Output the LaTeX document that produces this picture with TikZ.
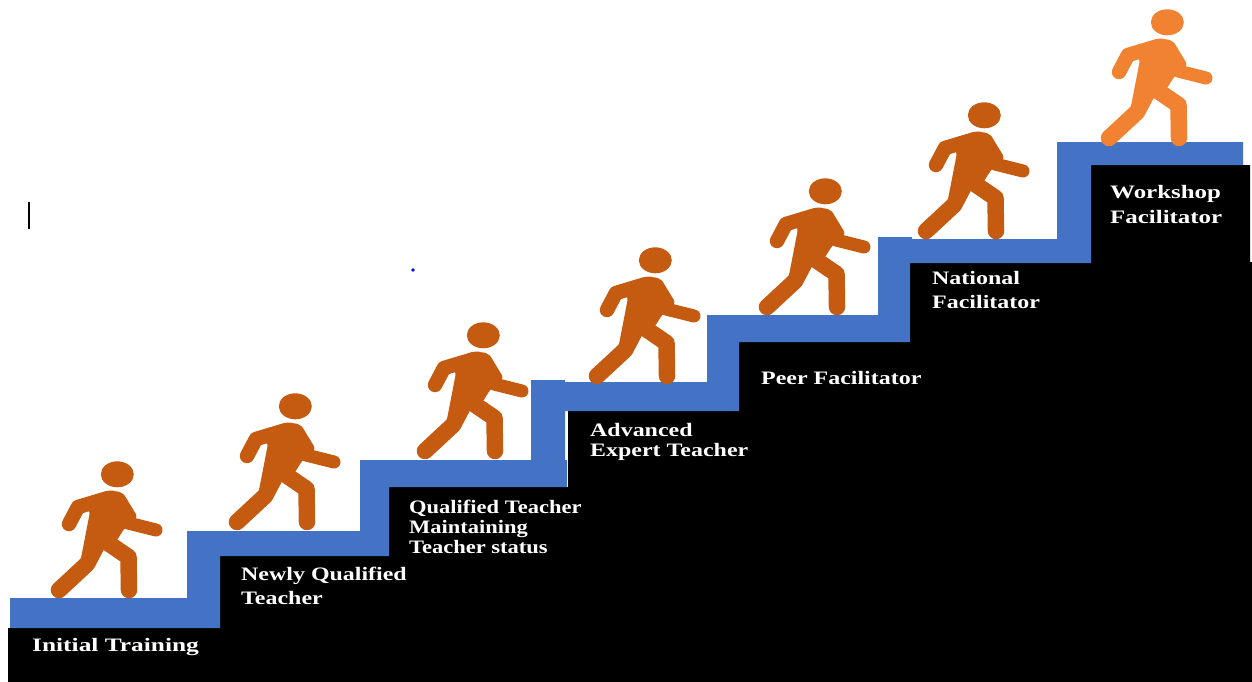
\documentclass[tikz,border=0pt]{standalone}
\usepackage{fontspec}
\setmainfont[FakeStretch=1.26]{Liberation Serif}
\definecolor{stepblue}{HTML}{4472C4}
\definecolor{walkdark}{HTML}{C55A11}
\definecolor{walklight}{HTML}{F08232}
\tikzset{
steplabel/.style={anchor=west, inner sep=0pt, align=left, text=white, transform shape, font=\fontsize{19}{#1}\selectfont\bfseries},
steplabel/.default=20,
limb/.style={line width=#1, line cap=round, line join=round},
limb/.default=16.5pt
}
\newcommand{\walker}[3]{
\begin{scope}[shift={(#1,#2)}, color=#3]
\fill (117.3,474.3) ellipse (16.5 and 13);
\fill[rounded corners=3pt] (82,502) -- (110,490) -- (123.3,493.3) -- (137.5,516.7) -- (124,529) -- (116.5,541) -- (98.3,549) -- (95,567) -- (80,563.3) -- (90,511.7) -- cycle;
\draw[limb] (59,590) -- (87,564) -- (97,545);
\draw[limb] (108,543) -- (128.5,557) -- (129,590);
\draw[limb=14.5pt] (69,524) -- (78,507) -- (108,498);
\draw[limb=13pt] (117,498) -- (128,523) -- (156,530);
\end{scope}
}
\begin{document}
\begin{tikzpicture}[x=1pt, y=-1pt]
\useasboundingbox (0,0) rectangle (1252,682);
\fill[black] (8,682) -- (8,628) -- (220,628) -- (220,556) -- (389,556) -- (389,487) -- (568,487) -- (568,411) -- (739,411) -- (739,342) -- (910,342) -- (910,263) -- (1091,263) -- (1091,165) -- (1250,165) -- (1250,262) -- (1252,262) -- (1252,682) -- cycle;
\fill[stepblue] (10,628) -- (10,598) -- (187,598) -- (187,531) -- (360,531) -- (360,460) -- (531,460) -- (531,380) -- (565,380) -- (565,382) -- (707,382) -- (707,315) -- (878,315) -- (878,237) -- (912,237) -- (912,239) -- (1057,239) -- (1057,142) -- (1243,142) -- (1243,165) -- (1091,165) -- (1091,263) -- (910,263) -- (910,342) -- (739,342) -- (739,411) -- (565,411) -- (565,460) -- (567,460) -- (567,487) -- (389,487) -- (389,556) -- (220,556) -- (220,628) -- cycle;

\walker{0}{0}{walkdark}
\walker{178}{-68}{walkdark}
\walker{366}{-139}{walkdark}
\walker{538}{-214}{walkdark}
\walker{708}{-283}{walkdark}
\walker{867}{-359}{walkdark}
\walker{1050}{-452}{walklight}

\draw[line width=1.5pt] (29,202) -- (29,229);
\fill[blue] (413,270) circle (1.8);

\node[steplabel, xscale=1.06] (initial) at (32,647) {Initial Training};
\node[steplabel=24] (newly) at (241,586) {Newly Qualified\\Teacher};
\node[steplabel, xscale=0.94] (qualified) at (409,527) {Qualified Teacher\\Maintaining\\Teacher status};
\node[steplabel] (advanced) at (590,442) {Advanced\\Expert Teacher};
\node[steplabel] (peer) at (761,378) {Peer Facilitator};
\node[steplabel=24] (national) at (932,290) {National\\Facilitator};
\node[steplabel=25, xscale=1.04] (workshop) at (1110,204) {Workshop\\Facilitator};
\end{tikzpicture}
\end{document}
